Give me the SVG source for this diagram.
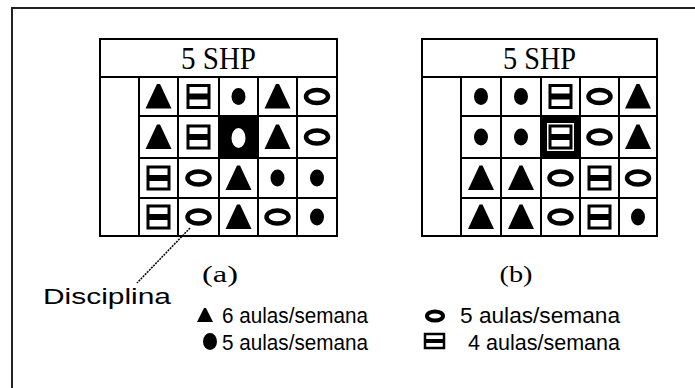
<svg xmlns="http://www.w3.org/2000/svg" width="695" height="388" viewBox="0 0 695 388">
<style>
.grid{fill:none;stroke:#000;stroke-width:2}
.hdr{font-family:"Liberation Serif",serif;font-size:31px;fill:#000}
.lbl{font-family:"Liberation Serif",serif;font-size:24px;fill:#000}
.leg{font-family:"Liberation Sans",Arial,sans-serif;font-size:22px;fill:#000}
</style>
<defs>
<polygon id="tri" points="-1.5,-12.5 1.5,-12.5 13,12 -13,12" fill="#000"/>
<ellipse id="dot" cx="0" cy="0" rx="7" ry="8.5" fill="#000"/>
<ellipse id="ring" cx="0" cy="0" rx="11" ry="6.5" fill="none" stroke="#000" stroke-width="4.5"/>
<g id="sq">
<rect x="-10.5" y="-11" width="21" height="22" fill="#fff" stroke="#000" stroke-width="3"/>
<rect x="-10.5" y="-3" width="21" height="6" fill="#000"/>
</g>
</defs>
<rect width="695" height="388" fill="#fff"/>
<path d="M12,400 V8 H700" fill="none" stroke="#222" stroke-width="2"/>

<g id="grid-a">
<rect class="grid" x="100" y="39" width="237" height="197"/>
<path class="grid" d="M100,77 H337 M139,77 V236 M178,77 V236 M219,77 V236 M258,77 V236 M297,77 V236 M139,116 H337 M139,158 H337 M139,198 H337"/>
<text class="hdr" x="218.5" y="69" text-anchor="middle" textLength="75" lengthAdjust="spacingAndGlyphs">5 SHP</text>
<rect x="219" y="116" width="39" height="42" fill="#000"/>
<use href="#tri" x="158.5" y="96.5"/><use href="#sq" x="198.5" y="96.5"/><use href="#dot" x="238.5" y="96.5"/><use href="#tri" x="277.5" y="96.5"/><use href="#ring" x="317" y="96.5"/>
<use href="#tri" x="158.5" y="137"/><use href="#sq" x="198.5" y="137"/><ellipse cx="238.5" cy="138" rx="7" ry="10" fill="#fff"/><use href="#tri" x="277.5" y="137"/><use href="#ring" x="317" y="137"/>
<use href="#sq" x="158.5" y="178"/><use href="#ring" x="198.5" y="178"/><use href="#tri" x="238.5" y="178"/><use href="#dot" x="277.5" y="178"/><use href="#dot" x="317" y="178"/>
<use href="#sq" x="158.5" y="217"/><use href="#ring" x="198.5" y="217"/><use href="#tri" x="238.5" y="217"/><use href="#ring" x="277.5" y="217"/><use href="#dot" x="317" y="217"/>
<text class="lbl" x="220" y="282" text-anchor="middle" textLength="36" lengthAdjust="spacingAndGlyphs">(a)</text>
</g>

<g id="grid-b">
<rect class="grid" x="422" y="39" width="235" height="197"/>
<path class="grid" d="M422,77 H657 M461,77 V236 M501,77 V236 M541,77 V236 M580,77 V236 M619,77 V236 M461,116 H657 M461,158 H657 M461,198 H657"/>
<text class="hdr" x="539.5" y="69" text-anchor="middle" textLength="73" lengthAdjust="spacingAndGlyphs">5 SHP</text>
<rect x="541" y="116" width="39" height="42" fill="#000"/>
<use href="#dot" x="481" y="96.5"/><use href="#dot" x="521" y="96.5"/><use href="#sq" x="560.5" y="96.5"/><use href="#ring" x="599.5" y="96.5"/><use href="#tri" x="638" y="96.5"/>
<use href="#dot" x="481" y="137"/><use href="#dot" x="521" y="137"/><rect x="547" y="123" width="27" height="28" fill="#fff"/><use href="#sq" x="560.5" y="137"/><use href="#ring" x="599.5" y="137"/><use href="#tri" x="638" y="137"/>
<use href="#tri" x="481" y="178"/><use href="#tri" x="521" y="178"/><use href="#ring" x="560.5" y="178"/><use href="#sq" x="599.5" y="178"/><use href="#ring" x="638" y="178"/>
<use href="#tri" x="481" y="217"/><use href="#tri" x="521" y="217"/><use href="#ring" x="560.5" y="217"/><use href="#sq" x="599.5" y="217"/><use href="#dot" x="638" y="217"/>
<text class="lbl" x="516" y="282" text-anchor="middle" textLength="33" lengthAdjust="spacingAndGlyphs">(b)</text>
</g>

<g id="connectors">
<line x1="190" y1="228" x2="137" y2="283" stroke="#000" stroke-width="1.5" stroke-dasharray="2 1"/>
</g>

<g id="disciplina">
<text class="leg" x="43" y="304" textLength="128" lengthAdjust="spacingAndGlyphs">Disciplina</text>
</g>

<g id="legend">
<polygon points="204,308 206,308 213,322 197,322" fill="#000"/>
<text class="leg" x="222" y="323" textLength="146" lengthAdjust="spacingAndGlyphs">6 aulas/semana</text>
<ellipse cx="435" cy="316" rx="8" ry="4.5" fill="none" stroke="#000" stroke-width="4"/>
<text class="leg" x="460" y="323" textLength="160" lengthAdjust="spacingAndGlyphs">5 aulas/semana</text>
<ellipse cx="210" cy="341.5" rx="7" ry="8.5" fill="#000"/>
<text class="leg" x="222" y="350" textLength="146" lengthAdjust="spacingAndGlyphs">5 aulas/semana</text>
<rect x="425" y="334" width="19" height="14" fill="#fff" stroke="#000" stroke-width="2.5"/>
<rect x="425" y="339" width="19" height="4" fill="#000"/>
<text class="leg" x="468" y="350" textLength="152" lengthAdjust="spacingAndGlyphs">4 aulas/semana</text>
</g>
</svg>
